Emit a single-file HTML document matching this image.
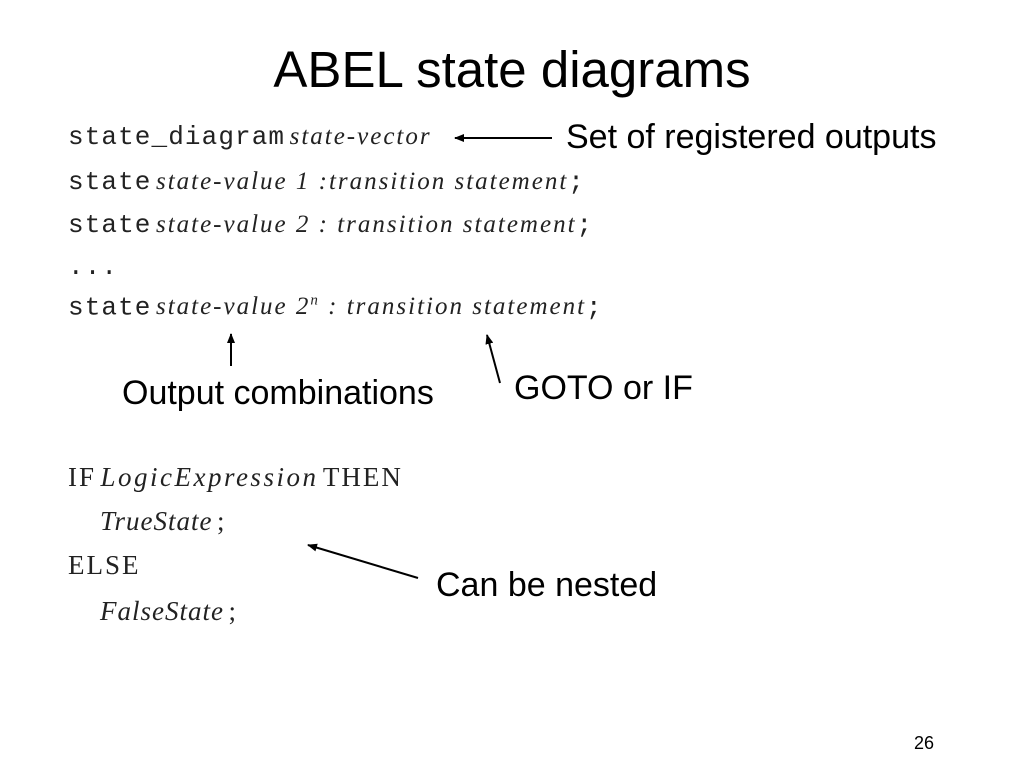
<!DOCTYPE html>
<html><head><style>
body{margin:0;width:1024px;height:768px;background:#fff;position:relative;overflow:hidden;font-family:"Liberation Sans",sans-serif;color:#000}
.t{position:absolute;white-space:nowrap;line-height:1}
.m{font-family:"Liberation Mono",monospace;font-size:26px;letter-spacing:1.1px;color:#222}
.i{font-family:"Liberation Serif",serif;font-style:italic;font-size:25px;letter-spacing:2px;color:#222}
.s{font-family:"Liberation Serif",serif;font-size:27px;color:#222;letter-spacing:2px}
.a{font-size:34px}
</style></head><body>
<div class="t" style="left:0;width:1024px;text-align:center;top:44px;font-size:51px">ABEL state diagrams</div>
<div class="t" style="left:68px;top:124px"><span class="m">state_diagram</span> <span class="i">state-vector</span></div>
<div class="t" style="left:68px;top:169px"><span class="m">state</span> <span class="i">state-value 1 :transition statement</span><span class="m">;</span></div>
<div class="t" style="left:68px;top:212px"><span class="m">state</span> <span class="i">state-value 2 : transition statement</span><span class="m">;</span></div>
<div class="t m" style="left:68px;top:254px">...</div>
<div class="t" style="left:68px;top:294px"><span class="m">state</span> <span class="i">state-value 2<sup style="font-size:15px">n</sup> : transition statement</span><span class="m">;</span></div>
<div class="t a" style="left:566px;top:120px">Set of registered outputs</div>
<div class="t a" style="left:122px;top:376px">Output combinations</div>
<div class="t a" style="left:514px;top:371px">GOTO or IF</div>
<div class="t a" style="left:436px;top:568px">Can be nested</div>
<div class="t" style="left:68px;top:464px"><span class="s">IF</span> <span class="i" style="font-size:27px;letter-spacing:2.5px">LogicExpression</span> <span class="s">THEN</span></div>
<div class="t" style="left:100px;top:508px"><span class="i" style="font-size:27px;letter-spacing:1px">TrueState</span> <span class="s">;</span></div>
<div class="t s" style="left:68px;top:552px">ELSE</div>
<div class="t" style="left:100px;top:598px"><span class="i" style="font-size:27px;letter-spacing:1px">FalseState</span> <span class="s">;</span></div>
<div class="t" style="left:914px;top:734px;font-size:18px">26</div>
<svg width="1024" height="768" style="position:absolute;left:0;top:0">
<defs><marker id="h" markerWidth="10" markerHeight="8" refX="9" refY="4" orient="auto" markerUnits="userSpaceOnUse"><path d="M0,0L10,4L0,8z" fill="#000"/></marker></defs>
<g stroke="#000" stroke-width="2" fill="none">
<line x1="552" y1="138" x2="455" y2="138" marker-end="url(#h)"/>
<line x1="231" y1="366" x2="231" y2="334" marker-end="url(#h)"/>
<line x1="500" y1="383" x2="487" y2="335" marker-end="url(#h)"/>
<line x1="418" y1="578" x2="308" y2="545" marker-end="url(#h)"/>
</g></svg>
</body></html>
